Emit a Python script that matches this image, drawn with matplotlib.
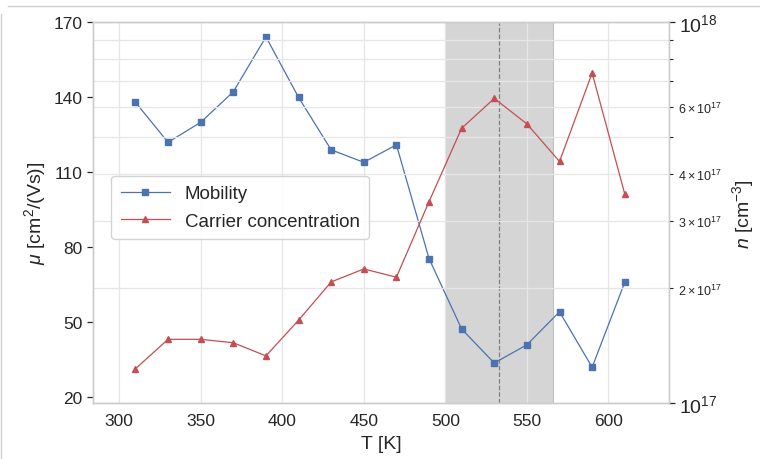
import matplotlib
matplotlib.use("Agg")
import matplotlib.pyplot as plt
from matplotlib.lines import Line2D

plt.rcParams['font.family'] = ['Liberation Sans', 'DejaVu Sans']
plt.rcParams['mathtext.fontset'] = 'custom'
plt.rcParams['mathtext.rm'] = 'Liberation Sans'
plt.rcParams['mathtext.it'] = 'Liberation Sans:italic'
plt.rcParams['mathtext.bf'] = 'Liberation Sans:bold'

# data
temperature = [310, 330, 350, 370, 390, 410, 430, 450, 470, 490, 510, 530, 550, 570, 590, 610]
mobility = [138, 122, 130, 142.2, 164.2, 140, 119, 114, 121, 75.5, 47.3, 33.7, 41, 54.2, 32, 66]
carrier = [1.23e17, 1.47e17, 1.47e17, 1.44e17, 1.33e17, 1.65e17, 2.08e17, 2.25e17, 2.14e17,
           3.38e17, 5.27e17, 6.31e17, 5.41e17, 4.31e17, 7.36e17, 3.54e17]
mu_ticks = [20, 50, 80, 110, 140, 170]
x_ticks = [300, 350, 400, 450, 500, 550, 600]
span_lo, span_hi, span_mid = 500, 566, 533

blue = '#4c72b0'
red = '#c44e52'
spine_col = '#cccccc'
text_col = '#262626'

fig = plt.figure(figsize=(7.6, 4.6), dpi=100)
ax1 = fig.add_axes([0.1224, 0.1217, 0.7576, 0.8276])
ax2 = ax1.twinx()

ax1.axvspan(span_lo, span_hi, facecolor='#b4b4b4', alpha=0.55, edgecolor='#a0a0a0', lw=0.8, zorder=0)
ax1.axvline(span_mid, color='#808080', ls='--', lw=0.9, zorder=1)

l1, = ax1.plot(temperature, mobility, color=blue, marker='s', ms=4.5, lw=0.9, label='Mobility')
l2, = ax2.plot(temperature, carrier, color=red, marker='^', ms=5, lw=0.9, label='Carrier concentration')

ax1.set_xlim(284, 637)
ax1.set_ylim(17.7, 170)
ax1.set_xticks(x_ticks)
ax1.set_yticks(mu_ticks)
ax1.grid(axis='x', color='#e6e6e6', lw=0.9)
ax1.set_axisbelow(True)

ax2.set_yscale('log')
ax2.set_ylim(1e17, 1e18)
ax2.grid(axis='y', which='both', color='#e6e6e6', lw=0.9)

for ax in (ax1, ax2):
    for s in ax.spines.values():
        s.set_color(spine_col)
        s.set_linewidth(1.0)

ax1.tick_params(axis='x', length=0, labelsize=12.5, colors=text_col, pad=7)
ax1.tick_params(axis='y', length=4, width=0.9, labelsize=12.5, colors=text_col)
ax2.tick_params(axis='y', which='major', length=4, width=0.9, labelsize=14, colors=text_col)
ax2.tick_params(axis='y', which='minor', length=3, width=0.8, labelsize=9, colors=text_col)

ax1.set_xlabel('T [K]', fontsize=14, color=text_col, labelpad=5)
ax1.set_ylabel(r'$\mu$ [cm$^2$/(Vs)]', fontsize=14, color=text_col)
ax2.set_ylabel(r'$n$ [cm$^{-3}$]', fontsize=14, color=text_col, labelpad=6)

leg = ax2.legend(handles=[l1, l2], loc='upper left', bbox_to_anchor=(0.032, 0.597),
                 borderaxespad=0, fontsize=13.5, frameon=True, fancybox=True, framealpha=0.85,
                 edgecolor='#cccccc', handlelength=2.6, borderpad=0.5, labelspacing=0.55)
for t in leg.get_texts():
    t.set_color(text_col)

# thin screenshot frame lines
fig.add_artist(Line2D([0.01, 1.0], [1 - 7 / 460, 1 - 7 / 460], color='#d0d0d0', lw=1))
fig.add_artist(Line2D([0.001, 0.001], [0.0, 1 - 15 / 460], color='#d0d0d0', lw=1))

fig.savefig('out.png', dpi=100)
